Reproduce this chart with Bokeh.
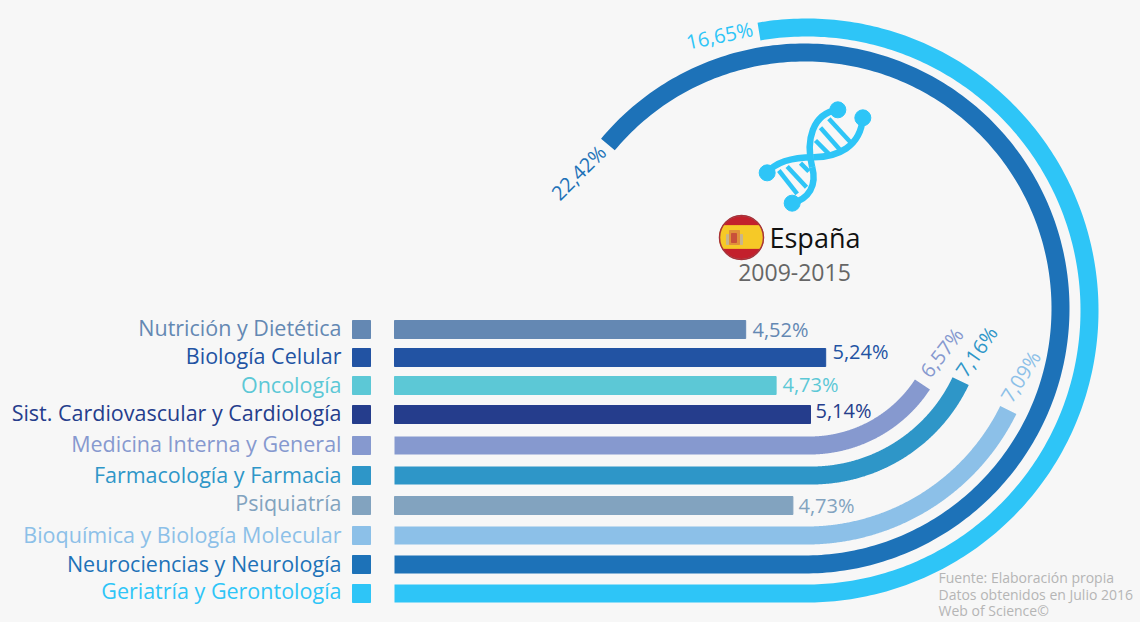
import numpy as np
from bokeh.plotting import figure
from bokeh.models import Range1d, GlobalInlineStyleSheet
from bokeh.core.properties import value
from bokeh.embed import file_html
from bokeh.resources import INLINE

# ---- data ----
categories = ["Nutrición y Dietética", "Biología Celular", "Oncología",
              "Sist. Cardiovascular y Cardiología", "Medicina Interna y General",
              "Farmacología y Farmacia", "Psiquiatría", "Bioquímica y Biología Molecular",
              "Neurociencias y Neurología", "Geriatría y Gerontología"]
shown_labels = ["4,52%", "5,24%", "4,73%", "5,14%", "6,57%", "7,16%", "4,73%", "7,09%", "22,42%", "16,65%"]
# drawn length of each mark, as measured in the picture, in percent units
mark_lengths = [4.39, 5.39, 4.77, 5.20, 6.86, 7.54, 4.98, 8.28, 17.98, 16.86]
colors = ["#6488b3", "#2253a3", "#5cc8d6", "#253d8c", "#8699cf",
          "#2e96c8", "#82a3bf", "#8cc0e8", "#1d72b8", "#2ec5f7"]
row_y = [329, 357, 385, 414, 445, 475, 505, 535, 564, 593]
name_y = [326.5, 354.5, 383.5, 411.5, 442.5, 473.5, 501.5, 533.5, 562.5, 589.5]
curve_cx = [None, None, None, None, 809, 811, None, 806, 804, 806]
curve_cy = [None, None, None, None, 310, 310, None, 310, 308, 310]
value_x = [752, 832, 782, 815, 941, 976, 798, 1020, 578, 719]
value_y = [329, 351, 384, 410, 352, 351, 505, 376, 172, 35]
value_angle = [0, 0, 0, 0, 52, 55, 0, 58, 45, 12]
value_align = ["left", "left", "left", "left", "center", "center", "left", "center", "center", "center"]
source_lines = ["Fuente: Elaboración propia", "Datos obtenidos en Julio 2016", "Web of Science©"]

FONT = value("Open Sans")
BG = "#f7f7f7"
X0, PX_PER_UNIT, BAR = 394, 80, 18

p = figure(width=1140, height=622, x_range=Range1d(0, 1140), y_range=Range1d(622, 0),
           toolbar_location=None, output_backend="svg", min_border=0,
           background_fill_color=BG, border_fill_color=BG, outline_line_color=None)
p.axis.visible = False
p.grid.visible = False
p.stylesheets = [GlobalInlineStyleSheet(css="html,body{background:%s}" % BG)]

# legend squares and names
p.rect([361] * 10, row_y, width=18, height=18, color=colors)
p.text([341] * 10, name_y, text=categories, text_color=colors, text_font=FONT,
       text_font_size="21.5px", text_align="right", text_baseline="middle")

# bars and curved bands
for L, y, cx, cy, c in zip(mark_lengths, row_y, curve_cx, curve_cy, colors):
    total = L * PX_PER_UNIT
    if cx is None:
        p.quad(left=[X0], right=[X0 + total], top=[y - BAR / 2], bottom=[y + BAR / 2], color=c)
    else:
        r = y - cy
        theta = np.linspace(0, (total - (cx - X0)) / r, 240)
        xs = np.r_[X0, cx + r * np.sin(theta)]
        ys = np.r_[y, cy + r * np.cos(theta)]
        p.line(xs, ys, line_color=c, line_width=BAR, line_cap="butt", line_join="round")

# value labels
for t, x, y, a, al, c in zip(shown_labels, value_x, value_y, value_angle, value_align, colors):
    p.text([x], [y], text=[t], text_color=c, text_font=FONT, text_font_size="20px",
           angle=a, angle_units="deg", text_align=al, text_baseline="middle")

# DNA icon
dna = "#2ec5f7"
def zx(v): return 680 + v / 3
def zy(v): return 90 + v / 3
strands = [
    [(472, 58), (395, 70), (375, 150), (395, 230)],
    [(395, 230), (410, 285), (385, 325), (335, 338)],
    [(547, 82), (540, 170), (470, 200), (400, 200)],
    [(400, 200), (330, 200), (285, 215), (260, 247)],
]
for s in strands:
    p.bezier(zx(s[0][0]), zy(s[0][1]), zx(s[3][0]), zy(s[3][1]),
             zx(s[1][0]), zy(s[1][1]), zx(s[2][0]), zy(s[2][1]),
             line_color=dna, line_width=6.5)
rungs = [(445, 85, 510, 155), (420, 112, 485, 185), (405, 150, 445, 190),
         (360, 218, 385, 243), (320, 228, 378, 290), (295, 240, 350, 310)]
for a, b, c, d in rungs:
    p.line([zx(a), zx(c)], [zy(b), zy(d)], line_color=dna, line_width=4.5)
for a, b in [(472, 58), (547, 82), (260, 247), (335, 338)]:
    p.scatter([zx(a)], [zy(b)], size=16, color=dna)

# flag
FX, FY, FR = 741, 237, 22
p.circle([FX], [FY], radius=FR, fill_color="#c3202c", line_color="#9e9e9e", line_width=1)
t = np.linspace(0, 2 * np.pi, 200)
yy = np.clip(FY + FR * np.sin(t), 225, 248)
xx = FX + FR * np.cos(t)
p.patch(xx, yy, color="#f6c927")
p.circle([FX], [FY], radius=FR, fill_color=None, line_color="#a8323a", line_width=1.5)
p.quad(left=[729], right=[739], top=[230], bottom=[244], color="#e0913a")
p.quad(left=[731], right=[736], top=[233], bottom=[242], color="#c9503a")
p.quad(left=[726], right=[728], top=[234], bottom=[244], color="#c9b58c")
p.quad(left=[740], right=[742], top=[234], bottom=[244], color="#c9b58c")

# titles
p.text([769], [237], text=["España"], text_color="#111111", text_font=FONT, text_font_size="27px",
       text_align="left", text_baseline="middle")
p.text([794], [272], text=["2009-2015"], text_color="#666666", text_font=FONT, text_font_size="23px",
       text_align="center", text_baseline="middle")
p.text([938] * 3, [577, 594, 610], text=source_lines, text_color="#b5b5b5", text_font=FONT,
       text_font_size="14px", text_align="left", text_baseline="middle")

open("out.html", "w").write(file_html(p, INLINE))
